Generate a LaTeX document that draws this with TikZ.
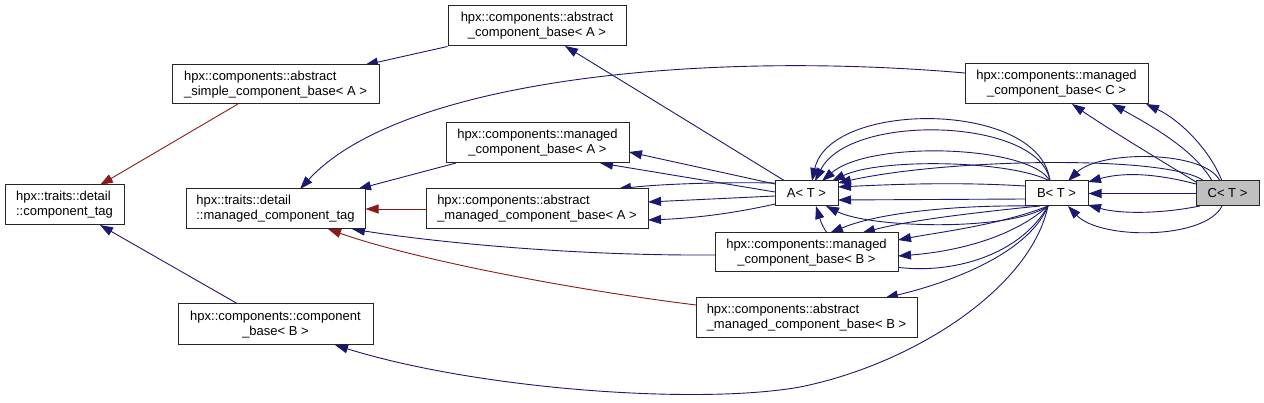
\documentclass[tikz,border=0pt]{standalone}
\usepackage{fontspec}
\setmainfont{Liberation Sans}
\usetikzlibrary{arrows.meta,calc}
\pgfdeclarelayer{bg}
\pgfsetlayers{bg,main}
\definecolor{edgeblue}{RGB}{25,25,112}
\definecolor{edgered}{RGB}{139,26,26}
\definecolor{curgray}{RGB}{191,191,191}
\begin{document}
\begin{tikzpicture}[x=1pt,y=-1pt,
  box/.style={draw=black!85,fill=white,line width=1pt,inner sep=0pt,
    font=\fontsize{13pt}{15pt}\selectfont},
  be/.style={draw=edgeblue,line width=0.9pt,-{Triangle[length=13pt,width=9pt]}},
  re/.style={draw=edgered,line width=0.9pt,-{Triangle[length=13pt,width=9pt]}}]
\useasboundingbox (0,0) rectangle (1264,403);
% nodes
\node[box,minimum width=178pt,minimum height=40pt,align=center] (acbA) at (537,26) {hpx::components::abstract\\\_component\_base< A >};
\node[box,minimum width=207pt,minimum height=39pt,align=left] (ascbA) at (275.5,84.5) {hpx::components::abstract\\\_simple\_component\_base< A >};
\node[box,minimum width=119pt,minimum height=40pt,align=left] (ctag) at (64.5,205) {hpx::traits::detail\\::component\_tag};
\node[box,minimum width=179pt,minimum height=40pt,align=left] (mctag) at (275.5,209) {hpx::traits::detail\\::managed\_component\_tag};
\node[box,minimum width=195pt,minimum height=41pt,align=center] (cbB) at (275.5,324.5) {hpx::components::component\\\_base< B >};
\node[box,minimum width=183pt,minimum height=40pt,align=center] (mcbA) at (537.5,143) {hpx::components::managed\\\_component\_base< A >};
\node[box,minimum width=222pt,minimum height=40pt,align=left] (amcbA) at (537,209) {hpx::components::abstract\\\_managed\_component\_base< A >};
\node[box,minimum width=63pt,minimum height=25pt] (A) at (806.5,193.5) {A< T >};
\node[box,minimum width=183pt,minimum height=39pt,align=center] (mcbB) at (806.5,252.5) {hpx::components::managed\\\_component\_base< B >};
\node[box,minimum width=221pt,minimum height=40pt,align=left] (amcbB) at (806.5,318) {hpx::components::abstract\\\_managed\_component\_base< B >};
\node[box,minimum width=183pt,minimum height=40pt,align=center] (mcbC) at (1056.5,84) {hpx::components::managed\\\_component\_base< C >};
\node[box,minimum width=63pt,minimum height=25pt] (B) at (1056.5,193.5) {B< T >};
\node[box,fill=curgray,minimum width=63pt,minimum height=25pt] (C) at (1227.5,193.5) {C< T >};
% edges
\begin{pgfonlayer}{bg}
\draw[re] ($(ascbA)+(-37.5,19.5)$) -- ($(ctag)+(35.5,-20)$);
\draw[re] (amcbA.west) -- (mctag.east);
\draw[re] ($(amcbB)+(-110.5,-13)$) .. controls (560,288) and (410,258) .. ($(mctag)+(52.5,20)$);
\draw[be] ($(cbB)+(-37.5,-20.5)$) -- ($(ctag)+(35.5,20)$);
\draw[be] (acbA.south west) -- ($(ascbA)+(89.5,-19.5)$);
\draw[be] ($(mcbC)+(-91.5,-11)$) .. controls (700,50) and (400,80) .. ($(mctag)+(24.5,-20)$);
\draw[be] ($(mcbA)+(-81.5,20)$) -- ($(mctag)+(82.5,-20)$);
\draw[be] ($(mcbB)+(-91.5,2.5)$) .. controls (560,256) and (420,240) .. ($(mctag)+(76.5,20)$);
\draw[be] ($(A)+(-21.5,-12.5)$) -- ($(acbA)+(28,20)$);
\draw[be] ($(A)+(-31.5,-9.5)$) -- ($(mcbA)+(91.5,9)$);
\draw[be] ($(A)+(-31.5,-1.5)$) -- ($(mcbA)+(62.5,20)$);
\draw[be] ($(A)+(-31.5,-10.5)$) .. controls (720,182) and (660,184) .. ($(amcbA)+(81,-20)$);
\draw[be] ($(A)+(-31.5,2.5)$) -- ($(amcbA)+(111,-7)$);
\draw[be] ($(A)+(-31.5,10.5)$) .. controls (740,212) and (700,218) .. ($(amcbA)+(111,11)$);
% B -> A
\draw[be] ($(B)+(-6.5,-12.5)$) .. controls (1040,100) and (830,100) .. ($(A)+(5.5,-12.5)$);
\draw[be] ($(B)+(-6.5,-12.5)$) .. controls (1040,118) and (850,112) .. ($(A)+(8.5,-12.5)$);
\draw[be] ($(B)+(-6.5,-12.5)$) .. controls (1030,145) and (870,140) .. ($(A)+(15.5,-12.5)$);
\draw[be] ($(B)+(-6.5,-12.5)$) .. controls (1010,160) and (880,158) .. ($(A)+(25.5,-12.5)$);
\draw[be] ($(B)+(-31.5,-7.5)$) .. controls (960,182) and (900,184) .. ($(A)+(31.5,-6.5)$);
\draw[be] ($(B)+(-31.5,5.5)$) -- ($(A)+(31.5,6.5)$);
\draw[be] ($(B)+(-8.5,12.5)$) .. controls (1010,232) and (870,228) .. ($(A)+(19.5,12.5)$);
\draw[be] ($(B)+(-8.5,12.5)$) .. controls (1000,290) and (840,285) .. ($(A)+(9.5,12.5)$);
% C -> A
\draw[be] ($(C)+(-23.5,-12.5)$) .. controls (1170,155) and (950,158) .. ($(A)+(31.5,-10.5)$);
% B -> managed/abstract B, component_base B
\draw[be] ($(B)+(-16.5,12.5)$) .. controls (980,212) and (910,220) .. ($(mcbB)+(55.5,-19.5)$);
\draw[be] ($(B)+(-26.5,12.5)$) .. controls (960,205) and (880,212) .. ($(mcbB)+(23.5,-19.5)$);
\draw[be] ($(B)+(-8.5,12.5)$) .. controls (1000,225) and (940,232) .. ($(mcbB)+(91.5,-12.5)$);
\draw[be] ($(B)+(-8.5,12.5)$) .. controls (1010,240) and (950,252) .. ($(mcbB)+(91.5,3.5)$);
\draw[be] ($(B)+(-8.5,12.5)$) .. controls (1030,250) and (960,280) .. ($(amcbB)+(78.5,-20)$);
\draw[be] ($(B)+(-8.5,12.5)$) .. controls (1030,290) and (910,365) .. (800,387) .. controls (700,405) and (480,390) .. ($(cbB)+(59.5,20.5)$);
% C -> B
\draw[be] ($(C)+(-7.5,-12.5)$) .. controls (1205,150) and (1100,150) .. ($(B)+(11.5,-12.5)$);
\draw[be] ($(C)+(-31.5,-9.5)$) .. controls (1150,172) and (1120,173) .. ($(B)+(31.5,-11.5)$);
\draw[be] (C.west) -- (B.east);
\draw[be] ($(C)+(-27.5,12.5)$) .. controls (1160,214) and (1120,214) .. ($(B)+(31.5,11.5)$);
\draw[be] ($(C)+(-5.5,12.5)$) .. controls (1205,240) and (1100,240) .. ($(B)+(11.5,12.5)$);
% C -> managed C
\draw[be] ($(C)+(-31.5,-11.5)$) .. controls (1160,160) and (1110,130) .. ($(mcbC)+(15.5,20)$);
\draw[be] ($(C)+(-15.5,-12.5)$) .. controls (1195,150) and (1150,125) .. ($(mcbC)+(55.5,20)$);
\draw[be] ($(C)+(-5.5,-12.5)$) .. controls (1210,150) and (1180,120) .. ($(mcbC)+(89.5,20)$);
\end{pgfonlayer}
\end{tikzpicture}
\end{document}
